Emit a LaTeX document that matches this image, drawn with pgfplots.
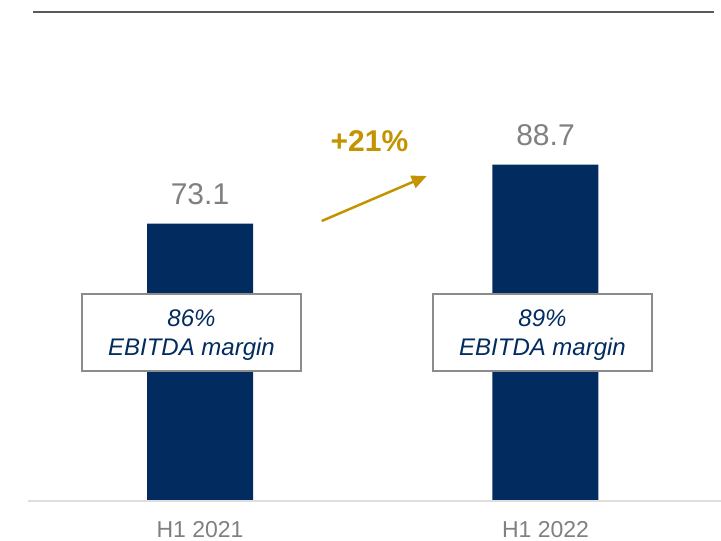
\documentclass[border=0pt]{standalone}
\usepackage{fontspec}
\setmainfont{Liberation Sans}
\usepackage{pgfplots}
\pgfplotsset{compat=1.18}
\usetikzlibrary{arrows.meta}

\definecolor{navy}{HTML}{022B5F}
\definecolor{gold}{HTML}{C39300}
\definecolor{valgray}{HTML}{808080}
\definecolor{boxgray}{HTML}{8C8C8C}

\begin{document}
\begin{tikzpicture}
\begin{axis}[
  scale only axis, width=721bp, height=541bp,
  xmin=-0.5789, xmax=1.5080,
  ymin=-10.85, ymax=132.28,
  axis line style={draw=none},
  major tick length=0pt,
  ytick=\empty,
  xtick={0,1},
  xticklabels={H1 2021, H1 2022},
  xticklabel style={anchor=base, inner sep=0pt, yshift=3bp,
    font=\fontsize{23bp}{27bp}\selectfont, text=valgray},
  clip=false,
  ybar, bar width=106bp,
  point meta=explicit symbolic,
  nodes near coords,
  every node near coord/.append style={anchor=base, inner sep=0pt, yshift=19bp,
    font=\fontsize{30bp}{36bp}\selectfont, text=valgray},
]
\addplot[fill=navy, draw=none] coordinates {(0,73.1) [73.1] (1,88.7) [88.7]};
\coordinate (TL) at (rel axis cs:0,1);
\end{axis}

% top rule and baseline
\draw[line width=1.2bp, color=black!65] ([xshift=33bp,yshift=-12bp]TL) -- ([xshift=714bp,yshift=-12bp]TL);
\draw[line width=1.5bp, color=black!13] ([xshift=28bp,yshift=-501bp]TL) -- ([xshift=721bp,yshift=-501bp]TL);

% margin boxes
\foreach \x/\pct in {82/86, 433/89}{
  \draw[fill=white, draw=boxgray, line width=1.2bp]
    ([xshift=\x bp,yshift=-294bp]TL) rectangle ([xshift=\x bp+219bp,yshift=-371bp]TL);
  \node[anchor=base, inner sep=0pt, text=navy, font=\fontsize{24bp}{29bp}\selectfont\itshape]
    at ([xshift=\x bp+109.5bp,yshift=-326.7bp]TL) {\pct\%};
  \node[anchor=base, inner sep=0pt, text=navy, font=\fontsize{24bp}{29bp}\selectfont\itshape]
    at ([xshift=\x bp+109.5bp,yshift=-356bp]TL) {EBITDA margin};
}

% growth arrow
\draw[gold, line width=2.5bp, -{Triangle[length=15bp,width=13bp]}]
  ([xshift=321.7bp,yshift=-221bp]TL) -- ([xshift=426.7bp,yshift=-176bp]TL);
\node[anchor=base, inner sep=0pt, text=gold, font=\fontsize{30bp}{36bp}\selectfont\bfseries]
  at ([xshift=369.5bp,yshift=-151.7bp]TL) {+21\%};

\pgfresetboundingbox
\path[use as bounding box] (TL) rectangle ([xshift=721bp,yshift=-541bp]TL);
\end{tikzpicture}
\end{document}
